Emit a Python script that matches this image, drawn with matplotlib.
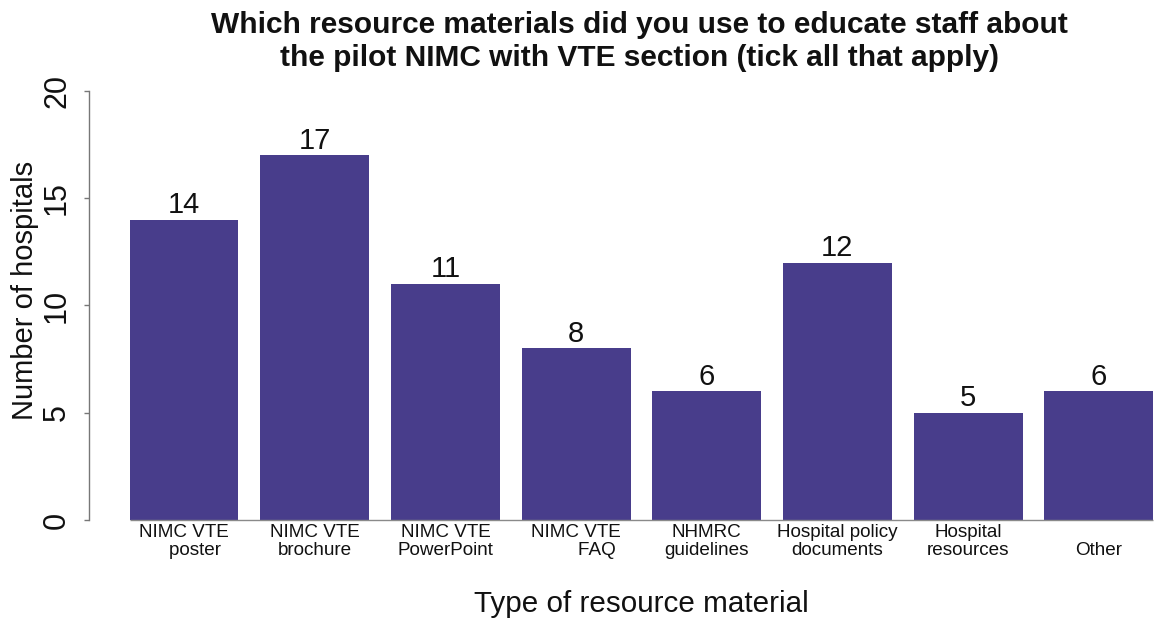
import matplotlib
matplotlib.use("Agg")
import matplotlib.pyplot as plt
import numpy as np

plt.rcParams['font.family'] = ['Liberation Sans', 'DejaVu Sans']

categories = [
    "NIMC VTE\n    poster",
    "NIMC VTE\nbrochure",
    "NIMC VTE\nPowerPoint",
    "NIMC VTE\n        FAQ",
    "NHMRC\nguidelines",
    "Hospital policy\ndocuments",
    "Hospital\nresources",
    "\nOther",
]
counts = [14, 17, 11, 8, 6, 12, 5, 6]
y_ticks = [0, 5, 10, 15, 20]

title = ("Which resource materials did you use to educate staff about\n"
         "the pilot NIMC with VTE section (tick all that apply)")
bar_color = "#483D8B"

W, H = 1155, 626
fig = plt.figure(figsize=(W / 100, H / 100), dpi=100)
ax = fig.add_axes([89 / W, (H - 520) / H, (W - 89) / W, 446.2 / H])

x = np.arange(len(counts))
width = 1 / 1.2
bars = ax.bar(x, counts, width=width, color=bar_color, edgecolor='none', zorder=2)

# baseline under the bars
ax.hlines(0, x[0] - width / 2, x[-1] + width / 2, color='#8a8a8a', lw=1.0,
          zorder=3, clip_on=False)

for xi, v in zip(x, counts):
    ax.annotate(str(v), (xi, v), xytext=(0, 0.5), textcoords='offset points',
                ha='center', va='bottom', fontsize=21, color='#111111')

ax.set_xlim(-0.727, 7.43)
ax.set_ylim(0, 20.8)

ax.set_xticks(x)
ax.set_xticklabels(categories, fontsize=13.6, color='#111111', linespacing=1.05)
ax.tick_params(axis='x', length=0, pad=3.2)

ax.set_yticks(y_ticks)
ax.set_yticklabels([str(t) for t in y_ticks], fontsize=22, color='#111111',
                   rotation=90, va='center')
ax.tick_params(axis='y', length=3.6, width=1.0, color='#777777', pad=8.6)

for s in ['top', 'right', 'bottom']:
    ax.spines[s].set_visible(False)
ax.spines['left'].set_bounds(0, 20)
ax.spines['left'].set_color('#777777')
ax.spines['left'].set_linewidth(1.0)

ax.set_ylabel("Number of hospitals", fontsize=21, color='#111111',
              ha='center', va='center')
ax.yaxis.set_label_coords(25 / W, (H - 290) / H, transform=fig.transFigure)

ax.set_xlabel("Type of resource material", fontsize=21.3, color='#111111',
              ha='center', va='baseline')
ax.xaxis.set_label_coords(641 / W, (H - 612) / H, transform=fig.transFigure)

fig.text(639 / W, 1 - 11 / H, title, ha='center', va='top', fontsize=21.5,
         fontweight='bold', color='#111111', linespacing=1.25)

fig.savefig("out.png", dpi=100, facecolor='white')
